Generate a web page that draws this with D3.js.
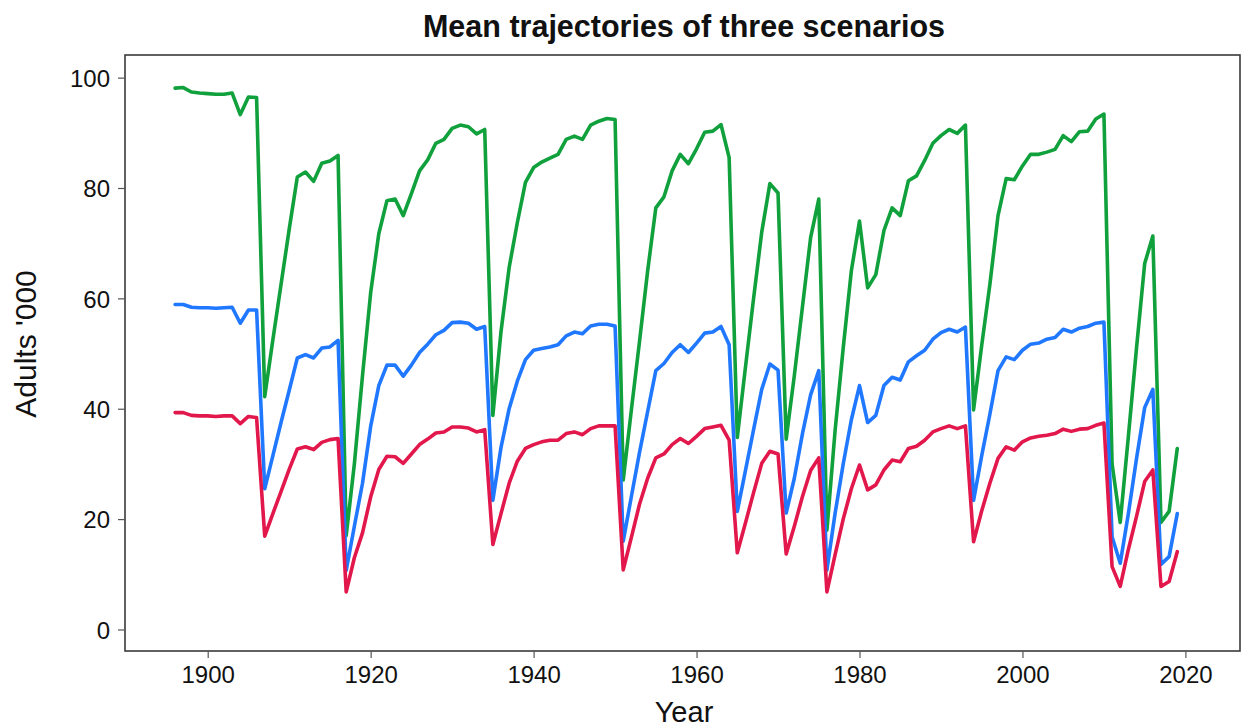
<!DOCTYPE html>
<html>
<head>
<meta charset="utf-8">
<script src="https://cdn.jsdelivr.net/npm/d3@7"></script>
<style>
  html, body { margin: 0; padding: 0; background: #ffffff; }
  svg { display: block; font-family: "Liberation Sans", Arial, Helvetica, sans-serif; }
</style>
</head>
<body>
<svg id="chart" width="1242" height="727"></svg>
<script>
// Annual series, 1896-2019 (adults, thousands)
const years = d3.range(1896, 2020);

const highScenario = [
  98.1, 98.2, 97.4, 97.2, 97.1, 97.0, 97.0, 97.2, 93.3, 96.5,
  96.4, 42.2, 52.5, 62.5, 72.5, 82.0, 82.9, 81.2, 84.5, 84.9,
  85.9, 17.0, 30.0, 46.0, 61.0, 71.7, 77.7, 78.0, 75.0, 79.0,
  83.1, 85.1, 88.1, 88.8, 90.8, 91.4, 91.1, 89.8, 90.6, 38.8,
  54.0, 65.6, 73.7, 81.0, 83.7, 84.7, 85.4, 86.1, 88.8, 89.4,
  88.8, 91.4, 92.1, 92.6, 92.4, 27.1, 39.8, 52.2, 65.0, 76.4,
  78.4, 83.1, 86.1, 84.4, 87.1, 90.1, 90.3, 91.5, 85.5, 34.8,
  47.5, 60.0, 72.0, 80.8, 79.1, 34.5, 46.0, 58.5, 71.0, 78.0,
  18.0, 36.0, 51.0, 65.0, 74.0, 61.9, 64.3, 72.3, 76.4, 75.0,
  81.3, 82.2, 85.0, 88.1, 89.5, 90.6, 89.9, 91.4, 39.8, 51.5,
  62.5, 75.0, 81.7, 81.5, 84.0, 86.1, 86.1, 86.5, 87.0, 89.5,
  88.4, 90.2, 90.3, 92.5, 93.4, 30.0, 19.4, 35.0, 51.0, 66.3,
  71.3, 19.4, 21.4, 32.8
];

const midScenario = [
  58.9, 58.9, 58.4, 58.3, 58.3, 58.2, 58.3, 58.4, 55.5, 57.9,
  57.9, 25.5, 31.5, 37.5, 43.3, 49.2, 49.8, 49.2, 51.0, 51.2,
  52.4, 10.7, 18.7, 26.5, 36.8, 44.2, 47.9, 47.9, 45.9, 47.9,
  50.2, 51.7, 53.4, 54.2, 55.6, 55.7, 55.5, 54.4, 54.9, 23.4,
  33.0, 40.0, 45.0, 48.9, 50.6, 50.9, 51.2, 51.6, 53.2, 53.9,
  53.6, 55.0, 55.3, 55.3, 55.0, 16.0, 24.1, 32.1, 39.5, 46.9,
  48.2, 50.2, 51.6, 50.2, 51.9, 53.7, 53.9, 54.9, 51.6, 21.4,
  28.8, 36.2, 43.5, 48.1, 47.0, 21.1, 27.4, 35.5, 42.5, 46.9,
  10.8, 21.0, 30.0, 38.0, 44.2, 37.5, 38.8, 44.2, 45.7, 45.2,
  48.5, 49.6, 50.6, 52.6, 53.8, 54.4, 53.9, 54.8, 23.4, 31.5,
  39.0, 46.9, 49.4, 48.9, 50.6, 51.7, 51.9, 52.6, 52.9, 54.4,
  53.9, 54.6, 54.9, 55.5, 55.7, 16.8, 12.0, 21.0, 31.0, 40.2,
  43.5, 11.8, 13.2, 21.0
];

const lowScenario = [
  39.3, 39.3, 38.8, 38.7, 38.7, 38.6, 38.7, 38.7, 37.3, 38.6,
  38.4, 16.9, 21.0, 25.0, 29.0, 32.7, 33.1, 32.6, 33.9, 34.4,
  34.6,  6.8, 13.0, 17.5, 24.0, 29.0, 31.4, 31.3, 30.1, 31.8,
  33.5, 34.5, 35.6, 35.8, 36.7, 36.7, 36.5, 35.8, 36.2, 15.4,
  21.0, 26.5, 30.5, 32.8, 33.5, 34.0, 34.3, 34.3, 35.5, 35.8,
  35.3, 36.4, 36.9, 36.9, 36.9, 10.8, 16.7, 22.7, 27.4, 31.1,
  31.8, 33.5, 34.6, 33.7, 35.0, 36.4, 36.7, 37.0, 34.3, 13.9,
  19.3, 24.8, 30.1, 32.3, 31.8, 13.7, 18.7, 24.1, 28.8, 31.1,
   6.8, 13.5, 20.0, 25.5, 29.8, 25.3, 26.2, 28.9, 30.7, 30.4,
  32.8, 33.2, 34.3, 35.8, 36.4, 36.9, 36.4, 36.9, 15.9, 21.5,
  26.5, 31.0, 33.1, 32.5, 34.0, 34.7, 35.0, 35.2, 35.5, 36.3,
  35.9, 36.3, 36.4, 37.0, 37.4, 11.4,  7.8, 14.5, 20.5, 26.8,
  28.9,  7.8,  8.7, 14.1
];

const xTicks = [1900, 1920, 1940, 1960, 1980, 2000, 2020];
const yTicks = [0, 20, 40, 60, 80, 100];

const seriesList = [
  { name: "high", values: highScenario, color: "#10a03c" },
  { name: "mid",  values: midScenario,  color: "#1f78ff" },
  { name: "low",  values: lowScenario,  color: "#e2174b" }
];

// Plot region
const frame = { left: 125, top: 55, right: 1240, bottom: 651 };

const x = d3.scaleLinear().domain([1889.85, 2026.7]).range([frame.left, frame.right]);
const y = d3.scaleLinear().domain([-3.9, 104.1]).range([frame.bottom, frame.top]);

const svg = d3.select("#chart");

// Title
svg.append("text")
  .attr("x", 684).attr("y", 37)
  .attr("text-anchor", "middle")
  .attr("font-size", 30.5).attr("font-weight", "bold")
  .attr("fill", "#111")
  .text("Mean trajectories of three scenarios");

// Plot region outline
svg.append("rect")
  .attr("x", frame.left).attr("y", frame.top)
  .attr("width", frame.right - frame.left).attr("height", frame.bottom - frame.top)
  .attr("fill", "#ffffff").attr("stroke", "#3a3a3a").attr("stroke-width", 1.6);

// Axes
const yAxis = d3.axisLeft(y).tickValues(yTicks).tickSize(7).tickPadding(8).tickFormat(d3.format("d"));
const xAxis = d3.axisBottom(x).tickValues(xTicks).tickSize(7).tickPadding(8).tickFormat(d3.format("d"));

const gy = svg.append("g").attr("transform", `translate(${frame.left},0)`).call(yAxis);
const gx = svg.append("g").attr("transform", `translate(0,${frame.bottom})`).call(xAxis);

[gx, gy].forEach(g => {
  g.select(".domain").remove();
  g.selectAll(".tick line").attr("stroke", "#555").attr("stroke-width", 1.2);
  g.selectAll(".tick text")
    .attr("font-size", 24).attr("fill", "#111")
    .attr("font-family", "'Liberation Sans', Arial, sans-serif");
});
gy.selectAll(".tick text").attr("dy", "0.36em");

// Axis titles
svg.append("text")
  .attr("x", 684).attr("y", 722)
  .attr("text-anchor", "middle")
  .attr("font-size", 29).attr("fill", "#111")
  .text("Year");

svg.append("text")
  .attr("transform", "translate(36,344) rotate(-90)")
  .attr("text-anchor", "middle")
  .attr("font-size", 30).attr("fill", "#111")
  .text("Adults '000");

// Series lines
const line = d3.line()
  .x((d, i) => x(years[i]))
  .y(d => y(d));

svg.append("g")
  .selectAll("path")
  .data(seriesList)
  .join("path")
  .attr("d", s => line(s.values))
  .attr("fill", "none")
  .attr("stroke", s => s.color)
  .attr("stroke-width", 3.6)
  .attr("stroke-linejoin", "round")
  .attr("stroke-linecap", "round");
</script>
</body>
</html>
